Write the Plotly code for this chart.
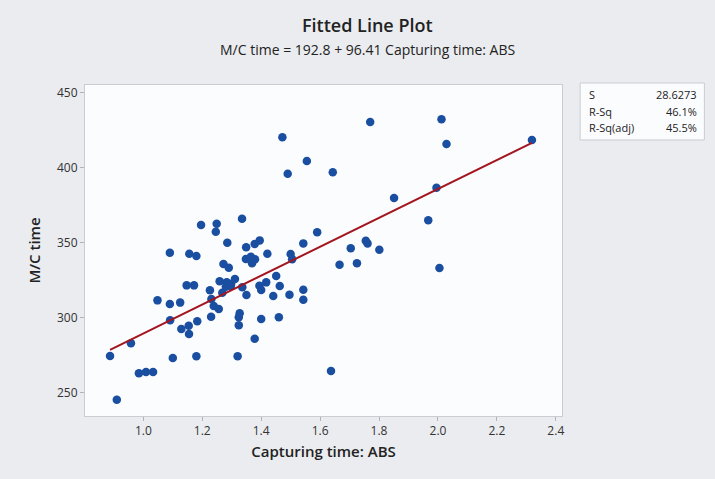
import plotly.graph_objects as go

capturing_time = [
    1.472, 1.555, 1.490, 1.335, 1.196, 1.249, 1.246, 1.590, 1.285, 1.349,
    1.378, 1.395, 1.543, 1.090, 1.156, 1.180, 1.421, 1.500, 1.770, 2.012,
    2.029, 2.319, 1.643, 1.995, 1.851, 1.967, 1.704, 1.755, 1.761, 1.801,
    1.666, 1.725, 2.005, 1.543, 1.543, 1.637, 1.505, 1.348, 1.365, 1.379,
    1.369, 1.272, 1.290, 1.451, 1.259, 1.283, 1.298, 1.311, 1.280, 1.297,
    1.417, 1.463, 1.394, 1.400, 1.336, 1.350, 1.441, 1.496, 1.147, 1.172,
    1.226, 1.268, 1.231, 1.239, 1.256, 1.048, 1.090, 1.125, 1.230, 1.183,
    1.091, 1.129, 1.154, 1.155, 1.327, 1.324, 1.324, 1.400, 1.460, 1.378,
    0.958, 0.887, 1.100, 1.180, 1.320, 0.985, 1.009, 1.033, 0.910,
]
mc_time = [
    420.0, 404.2, 395.7, 365.7, 361.5, 362.4, 357.1, 356.7, 349.7, 346.7,
    348.9, 351.3, 349.3, 343.1, 342.4, 340.9, 342.4, 342.2, 430.2, 432.0,
    415.5, 418.2, 396.7, 386.4, 379.5, 364.7, 346.0, 351.1, 349.3, 345.1,
    335.1, 336.0, 332.9, 318.4, 311.7, 264.2, 338.7, 338.9, 340.4, 338.7,
    336.0, 335.5, 333.1, 327.5, 324.0, 323.3, 322.2, 325.5, 320.4, 320.9,
    323.3, 320.9, 321.1, 318.2, 320.0, 314.9, 314.2, 315.1, 321.3, 321.3,
    318.0, 316.4, 312.2, 307.5, 305.5, 311.3, 308.9, 309.8, 300.4, 297.3,
    298.0, 292.2, 294.4, 288.9, 302.7, 300.0, 294.7, 298.9, 300.0, 285.7,
    282.7, 274.2, 272.9, 274.0, 274.0, 262.7, 263.6, 263.6, 245.1,
]
intercept = 192.8
slope = 96.41
stat_labels = ["S", "R-Sq", "R-Sq(adj)"]
stat_values = ["28.6273", "46.1%", "45.5%"]
x_ticks = [1.0, 1.2, 1.4, 1.6, 1.8, 2.0, 2.2, 2.4]
y_ticks = [250, 300, 350, 400, 450]

x_line = [min(capturing_time), max(capturing_time)]
y_line = [intercept + slope * v for v in x_line]

FONT = "Open Sans"
fig = go.Figure()
fig.add_trace(go.Scatter(
    x=capturing_time, y=mc_time, mode="markers",
    marker=dict(size=8.5, color="#1a4ea0", line=dict(width=0)),
    showlegend=False, hoverinfo="x+y"))
fig.add_trace(go.Scatter(
    x=x_line, y=y_line, mode="lines",
    line=dict(color="#a3151f", width=2), showlegend=False))

axis_common = dict(showgrid=False, zeroline=False, showline=True, mirror=True,
                   linecolor="#c9ccd0", linewidth=1, ticks="outside", ticklen=4,
                   tickcolor="#b0b3b8", tickfont=dict(family=FONT, size=12, color="#333333"))
fig.update_xaxes(range=[0.802, 2.421], tickvals=x_ticks,
                 ticktext=[f"{t:.1f}" for t in x_ticks],
                 title=dict(text="Capturing time: ABS",
                            font=dict(family=FONT, size=15, color="#222222", weight=600),
                            standoff=8), **axis_common)
fig.update_yaxes(range=[234.2, 454.9], tickvals=y_ticks,
                 title=dict(text="M/C time",
                            font=dict(family=FONT, size=15, color="#222222", weight=600),
                            standoff=12), **axis_common)

annotations = [
    dict(text="Fitted Line Plot", x=0.592, y=1.181, xref="paper", yref="paper",
         showarrow=False, font=dict(family=FONT, size=18, color="#222222", weight=600),
         xanchor="center", yanchor="middle"),
    dict(text="M/C time = 192.8 + 96.41 Capturing time: ABS", x=0.592, y=1.106, xref="paper", yref="paper",
         showarrow=False, font=dict(family=FONT, size=14, color="#222222", weight=500),
         xanchor="center", yanchor="middle"),
]
row_y = [0.970, 0.921, 0.873]
for lab, val, yy in zip(stat_labels, stat_values, row_y):
    annotations.append(dict(text=lab, x=1.053, y=yy, xref="paper", yref="paper", showarrow=False,
                            xanchor="left", yanchor="middle", font=dict(family=FONT, size=11, color="#222222")))
    annotations.append(dict(text=val, x=1.288, y=yy, xref="paper", yref="paper", showarrow=False,
                            xanchor="right", yanchor="middle", font=dict(family=FONT, size=11, color="#222222")))

fig.update_layout(
    width=715, height=479,
    margin=dict(l=85, r=153, t=85, b=63),
    paper_bgcolor="#eaecef", plot_bgcolor="#fbfcfe",
    annotations=annotations,
    shapes=[dict(type="rect", xref="paper", yref="paper", x0=1.038, x1=1.2985, y0=0.834, y1=1.006,
                 fillcolor="#fbfcfe", line=dict(color="#c9ccd0", width=1))],
)
fig.write_html("out.html", config={"displayModeBar": False})

# remove the browser's default page margin so the figure sits flush in the window
with open("out.html", "r", encoding="utf-8") as f:
    html = f.read()
html = html.replace("<head>", "<head><style>html,body{margin:0;padding:0;overflow:hidden;background:#eaecef;}</style>", 1)
with open("out.html", "w", encoding="utf-8") as f:
    f.write(html)
